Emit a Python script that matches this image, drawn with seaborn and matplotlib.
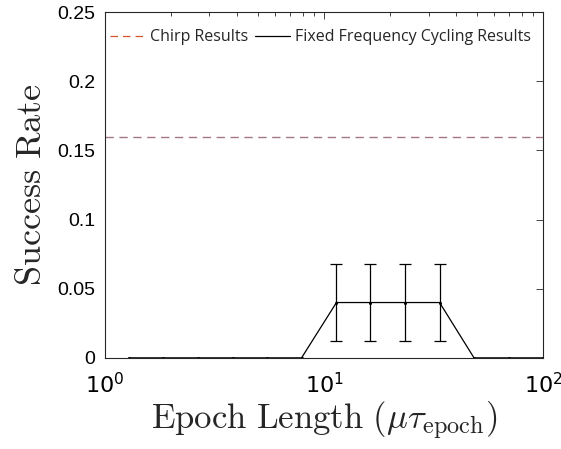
import matplotlib
matplotlib.use("Agg")
import matplotlib.pyplot as plt
from matplotlib.lines import Line2D
import seaborn as sns
import pandas as pd

# Epoch lengths swept (log-spaced) and measured success rates
epoch_length = [1.29, 1.85, 2.66, 3.83, 5.50, 7.90, 11.4, 16.3, 23.5, 33.7, 48.4, 69.6, 100.0]
success_rate = [0, 0, 0, 0, 0, 0, 0.04, 0.04, 0.04, 0.04, 0, 0, 0]
success_err = [0, 0, 0, 0, 0, 0, 0.028, 0.028, 0.028, 0.028, 0, 0, 0]
chirp_rate = 0.16

y_ticks = [0, 0.05, 0.1, 0.15, 0.2, 0.25]
y_tick_labels = ["0", "0.05", "0.1", "0.15", "0.2", "0.25"]
x_ticks = [1, 10, 100]
x_tick_labels = [r"$10^{0}$", r"$10^{1}$", r"$10^{2}$"]

sns.set_style("white")
plt.rcParams["font.family"] = ["Liberation Sans", "DejaVu Sans"]
plt.rcParams["mathtext.fontset"] = "cm"

df = pd.DataFrame({"epoch": epoch_length, "rate": success_rate, "err": success_err})

fig = plt.figure(figsize=(5.61, 4.49), dpi=100)
ax = fig.add_axes([0.187, 0.203, 0.781, 0.770])

chirp_color = "#a47786"
ax.axhline(chirp_rate, color=chirp_color, lw=1.0, ls=(0, (6, 4)))

sns.lineplot(data=df, x="epoch", y="rate", color="black", lw=0.9,
             marker="o", markersize=2.2, markeredgewidth=0, ax=ax)
nz = df[df["err"] > 0]
ax.errorbar(nz["epoch"], nz["rate"], yerr=nz["err"], fmt="none",
            ecolor="black", elinewidth=0.9, capsize=4, capthick=0.9)

ax.set_xscale("log")
ax.set_xlim(1, 100)
ax.set_ylim(0, 0.25)
ax.set_yticks(y_ticks)
ax.set_yticklabels(y_tick_labels)
ax.set_xticks(x_ticks)
ax.set_xticklabels(x_tick_labels)

ax.tick_params(axis="both", which="both", direction="in", top=True, right=True,
               colors="#262626", width=0.6)
ax.tick_params(axis="both", which="major", length=5)
ax.tick_params(axis="x", which="minor", length=3)
ax.tick_params(axis="x", labelcolor="black", pad=11, labelsize=16)
ax.tick_params(axis="y", labelcolor="black", pad=7, labelsize=14)
for lab in ax.get_xticklabels():
    lab.set_math_fontfamily("dejavusans")
    lab.set_fontfamily(["Liberation Sans", "DejaVu Sans"])

for s in ax.spines.values():
    s.set_color("#262626")
    s.set_linewidth(0.8)

ax.set_xlabel(r"$\mathrm{Epoch\ Length\ }(\mu\tau_{\mathrm{epoch}})$", fontsize=25, labelpad=1)
ax.set_ylabel(r"$\mathrm{Success\ Rate}$", fontsize=26, labelpad=6)

handles = [Line2D([], [], color="#d9532a", lw=0.9, ls=(0, (6, 4))),
           Line2D([], [], color="black", lw=0.9)]
ax.legend(handles, ["Chirp Results", "Fixed Frequency Cycling Results"],
          loc="upper left", ncol=2, frameon=False,
          handlelength=2.2, columnspacing=0.45, handletextpad=0.3,
          borderaxespad=0, borderpad=0.3,
          bbox_to_anchor=(0.0, 0.964),
          prop={"family": ["Open Sans", "DejaVu Sans"], "size": 11.5})

fig.savefig("out.png", dpi=100)
